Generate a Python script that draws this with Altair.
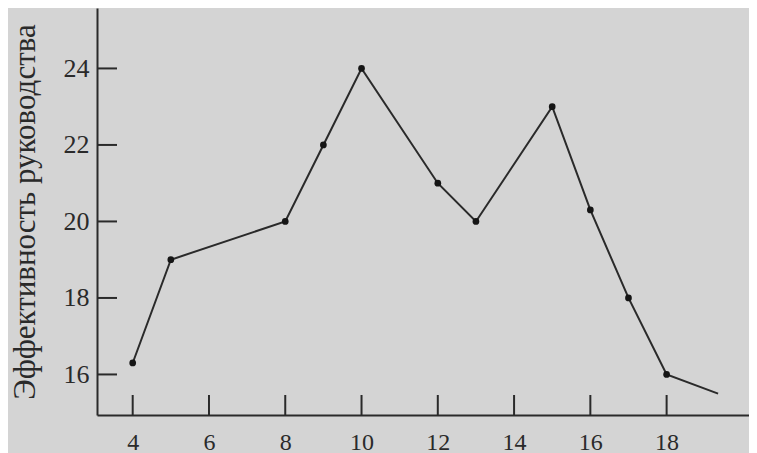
import altair as alt
import pandas as pd

# Data
x_vals = [4, 5, 8, 9, 10, 12, 13, 15, 16, 17, 18]
y_vals = [16.3, 19.0, 20.0, 22.0, 24.0, 21.0, 20.0, 23.0, 20.3, 18.0, 16.0]
tail_x = [19.35]
tail_y = [15.5]
x_ticks = [4, 6, 8, 10, 12, 14, 16, 18]
y_ticks = [16, 18, 20, 22, 24]
y_title = "Эффективность руководства"

W, H = 652, 407
INK = "#2a2a2a"
BG = "#d4d4d4"
FONT = "Liberation Serif"

pts = pd.DataFrame({"x": x_vals, "y": y_vals})
line_df = pd.DataFrame({"x": x_vals + tail_x, "y": y_vals + tail_y})
xt = pd.DataFrame({"x": x_ticks})
yt = pd.DataFrame({"y": y_ticks})

xscale = alt.Scale(domain=[3.064, 20.16], nice=False, zero=False)
yscale = alt.Scale(domain=[14.94, 25.58], nice=False, zero=False)

xaxis = alt.Axis(values=x_ticks, ticks=False, grid=False, domainColor=INK, domainWidth=2,
                 labelFont=FONT, labelFontSize=24, labelColor=INK, labelPadding=15, title=None)
yaxis = alt.Axis(values=y_ticks, ticks=False, grid=False, domainColor=INK, domainWidth=2,
                 labelFont=FONT, labelFontSize=26, labelColor=INK, labelPadding=8,
                 title=y_title, titleFont=FONT, titleFontSize=31, titleFontWeight="normal",
                 titleColor=INK, titlePadding=22)

line = alt.Chart(line_df).mark_line(color=INK, strokeWidth=2).encode(
    x=alt.X("x:Q", scale=xscale, axis=xaxis),
    y=alt.Y("y:Q", scale=yscale, axis=yaxis),
)
dots = alt.Chart(pts).mark_circle(color="#151515", size=45, opacity=1).encode(
    x=alt.X("x:Q", scale=xscale),
    y=alt.Y("y:Q", scale=yscale),
)
xtick_marks = alt.Chart(xt).mark_rule(color=INK, strokeWidth=2).encode(
    x=alt.X("x:Q", scale=xscale),
    y=alt.value(H),
    y2=alt.value(H - 20),
)
ytick_marks = alt.Chart(yt).mark_rule(color=INK, strokeWidth=2).encode(
    y=alt.Y("y:Q", scale=yscale),
    x=alt.value(0),
    x2=alt.value(20),
)

chart = alt.layer(line, dots, xtick_marks, ytick_marks).properties(
    width=W, height=H,
    background=BG,
    padding={"left": 89, "top": 0, "right": 0, "bottom": 38},
    autosize=alt.AutoSizeParams(type="none"),
).configure_view(stroke=None)

chart.save("out.html", embed_options={"renderer": "svg", "actions": False})
